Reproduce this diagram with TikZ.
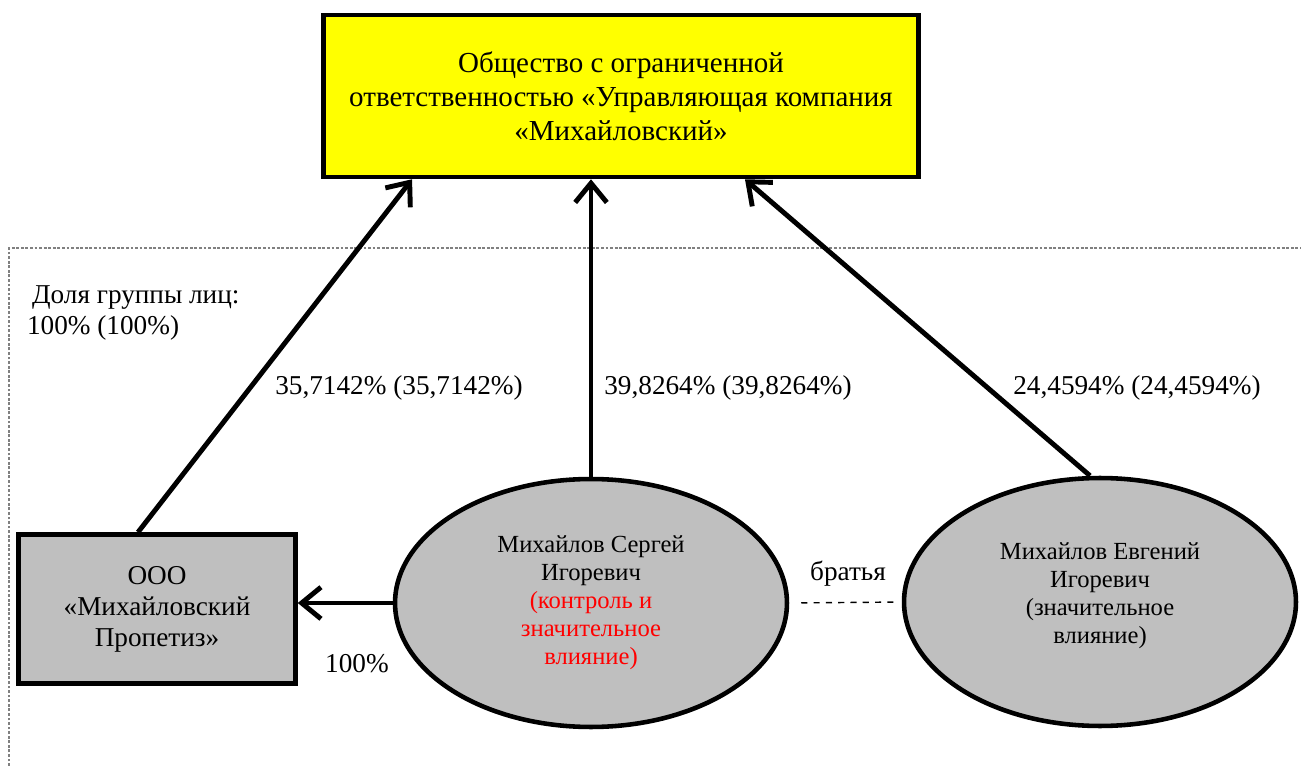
\documentclass[tikz,border=0pt]{standalone}
\usepackage{fontspec}
\setmainfont{Liberation Serif}
\newfontfamily\tnr{Liberation Serif}
\usetikzlibrary{shapes,arrows.meta}
\definecolor{boxgray}{RGB}{191,191,191}
\definecolor{ukyellow}{RGB}{255,255,0}

\begin{document}
\begin{tikzpicture}[x=0.02cm,y=-0.02cm,
  arr/.style={black, line width=2.8pt, -{Straight Barb[length=11pt,width=18pt]}},
  ukbox/.style={draw, line width=2.6pt, fill=ukyellow, minimum width=11.9cm, minimum height=3.24cm,
    align=center, font=\tnr\fontsize{16.5}{19.3}\selectfont},
  orgbox/.style={draw, line width=2.6pt, fill=boxgray, minimum width=5.54cm, minimum height=2.98cm,
    align=center, font=\tnr\fontsize{15.5}{17.6}\selectfont},
  person/.style={draw, ellipse, line width=2.6pt, fill=boxgray, minimum width=7.84cm, minimum height=4.96cm,
    inner sep=0pt, align=center, font=\tnr\fontsize{14}{15.9}\selectfont},
  lbl/.style={font=\tnr\fontsize{15.5}{17.2}\selectfont, inner sep=1pt}]
\useasboundingbox (0,0) rectangle (1301,766);
% Nodes
\def \posUK {(621,96)};
\def \posOOO {(157,609)};
\def \posSergey {(591,603)};
\def \posEvgeny {(1100,602)};

% group frame
\draw[gray, line width=0.6pt, dash pattern=on 1.6pt off 1pt] (9,766) -- (9,248) -- (1301,248);

\node[ukbox] (uk) at \posUK {Общество с ограниченной\\ответственностью «Управляющая компания\\«Михайловский»};
\node[orgbox] (ooo) at \posOOO {ООО\\«Михайловский\\Пропетиз»};
\node[person] (sergey) at \posSergey {Михайлов Сергей\\Игоревич\\\textcolor{red}{(контроль и}\\\textcolor{red}{значительное}\\\textcolor{red}{влияние)}};
\node[person] (evgeny) at \posEvgeny {Михайлов Евгений\\Игоревич\\(значительное\\влияние)\\[-6pt]\mbox{}};

% edges, each separately
\draw[arr] ([xshift=-0.38cm]ooo.north) -- ([xshift=-4.18cm]uk.south);
\draw[arr] (sergey.north) -- (sergey.north |- uk.south);
\draw[arr] ([xshift=-0.2cm]evgeny.north) -- ([xshift=2.48cm]uk.south);
\draw[arr] (sergey.west) -- (sergey.west -| ooo.east);
\draw[black, line width=0.8pt, dash pattern=on 3.5pt off 3.5pt, shorten <=0.24cm, shorten >=0.12cm]
  (sergey.east) -- (evgeny.west);
%
\node[lbl, anchor=west, align=left] (group) at (25,313) {\hspace{0.1cm}Доля группы лиц:\\100\% (100\%)};
\node[lbl] (shareOOO) at (399,388) {35,7142\% (35,7142\%)};
\node[lbl] (shareSergey) at (728,388) {39,8264\% (39,8264\%)};
\node[lbl] (shareEvgeny) at (1137,388) {24,4594\% (24,4594\%)};
\node[lbl] (shareSub) at (357,664) {100\%};
\node[lbl] (brothers) at (848,574) {братья};
\end{tikzpicture}
\end{document}
